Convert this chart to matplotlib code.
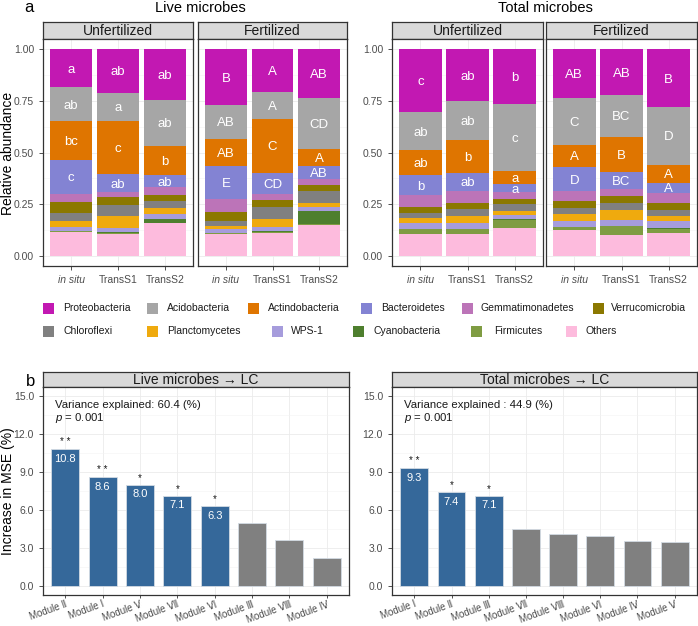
import matplotlib.pyplot as plt
from matplotlib.patches import Rectangle
from matplotlib.ticker import MultipleLocator
import numpy as np

plt.rcParams['font.family'] = ['Liberation Sans', 'DejaVu Sans', 'Noto Sans CJK SC']
plt.rcParams['mathtext.fontset'] = 'custom'
plt.rcParams['mathtext.it'] = 'Liberation Sans:italic'
plt.rcParams['mathtext.rm'] = 'Liberation Sans'

# ---- data ----
phyla = ['Proteobacteria', 'Acidobacteria', 'Actindobacteria', 'Bacteroidetes',
         'Gemmatimonadetes', 'Verrucomicrobia', 'Chloroflexi', 'Planctomycetes',
         'WPS-1', 'Cyanobacteria', 'Firmicutes', 'Others']
colors = ['#C218B2', '#A6A6A6', '#DF7500', '#8383D3', '#BC74B8', '#8B7800',
          '#808080', '#EFAA0E', '#A69CDC', '#4E7F2E', '#7F9C42', '#FDBBDD']
samples = ['in situ', 'TransS1', 'TransS2']

# rows: in situ, TransS1, TransS2 ; columns follow `phyla`
live_unfert = [[.182, .166, .187, .164, .039, .055, .038, .032, .015, .002, .003, .117],
               [.210, .138, .257, .086, .024, .038, .057, .058, .018, .006, .002, .106],
               [.244, .226, .140, .058, .038, .027, .038, .026, .023, .022, .002, .156]]
live_fert = [[.270, .163, .130, .164, .062, .044, .021, .018, .017, .002, .002, .107],
             [.207, .130, .263, .099, .031, .036, .054, .043, .017, .006, .002, .112],
             [.234, .249, .081, .062, .031, .031, .057, .019, .020, .064, .002, .150]]
total_unfert = [[.304, .185, .122, .096, .056, .029, .024, .025, .031, .001, .020, .107],
                [.249, .192, .156, .091, .055, .033, .031, .034, .031, .001, .020, .107],
                [.263, .329, .060, .041, .034, .024, .031, .020, .022, .001, .041, .134]]
total_fert = [[.236, .226, .107, .119, .045, .034, .033, .033, .027, .001, .015, .124],
              [.223, .200, .170, .083, .033, .037, .034, .046, .029, .001, .043, .101],
              [.278, .281, .088, .047, .051, .035, .030, .023, .035, .001, .023, .108]]

live_unfert_letters = [['a', 'ab', 'bc', 'c'], ['ab', 'a', 'c', 'ab'], ['ab', 'ab', 'b', 'ab']]
live_fert_letters = [['B', 'AB', 'AB', 'E'], ['A', 'A', 'C', 'CD'], ['AB', 'CD', 'A', 'AB']]
total_unfert_letters = [['c', 'ab', 'ab', 'b'], ['ab', 'ab', 'b', 'ab'], ['b', 'c', 'a', 'a']]
total_fert_letters = [['AB', 'C', 'A', 'D'], ['AB', 'BC', 'B', 'BC'], ['B', 'D', 'A', 'A']]

live_modules = ['Module Ⅱ', 'Module Ⅰ', 'Module Ⅴ', 'Module Ⅶ', 'Module Ⅵ',
                'Module Ⅲ', 'Module Ⅷ', 'Module Ⅳ']
live_mse = [10.8, 8.6, 8.0, 7.1, 6.3, 5.0, 3.6, 2.15]
live_stars = ['* *', '* *', '*', '*', '*', '', '', '']

total_modules = ['Module Ⅰ', 'Module Ⅱ', 'Module Ⅲ', 'Module Ⅶ', 'Module Ⅷ',
                 'Module Ⅵ', 'Module Ⅳ', 'Module Ⅴ']
total_mse = [9.3, 7.4, 7.1, 4.5, 4.05, 3.95, 3.5, 3.47]
total_stars = ['* *', '*', '*', '', '', '', '', '']

W, H = 698, 626
fig = plt.figure(figsize=(W / 100, H / 100), dpi=100)
BORDER = '#333333'
TICKC = '#4D4D4D'


def px_axes(x0, y0, x1, y1):
    return fig.add_axes([x0 / W, 1 - y1 / H, (x1 - x0) / W, (y1 - y0) / H])


def strip(x0, y0, x1, y1, label):
    ax = px_axes(x0, y0, x1, y1)
    ax.set_facecolor('#D9D9D9')
    ax.set_xticks([])
    ax.set_yticks([])
    for s in ax.spines.values():
        s.set_color(BORDER)
        s.set_linewidth(0.9)
    ax.text(0.5, 0.47, label, ha='center', va='center', fontsize=10,
            color='#1A1A1A', transform=ax.transAxes)


def style_panel(ax):
    for s in ax.spines.values():
        s.set_color(BORDER)
        s.set_linewidth(0.9)
    ax.tick_params(length=3, width=0.6, color=BORDER, labelsize=7.5, labelcolor=TICKC)
    ax.tick_params(which='minor', length=0)
    ax.grid(True, which='major', color='#EBEBEB', lw=0.6)
    ax.grid(True, which='minor', axis='y', color='#F3F3F3', lw=0.4)
    ax.set_axisbelow(True)


def stacked_panel(x0, x1, data, letters, label, show_y):
    strip(x0, 22, x1, 39, label)
    ax = px_axes(x0, 39, x1, 266)
    style_panel(ax)
    vals = np.array(data)
    x = np.arange(len(samples))
    bottom = np.zeros(len(samples))
    for j in reversed(range(len(phyla))):
        ax.bar(x, vals[:, j], bottom=bottom, width=0.9, color=colors[j], edgecolor='none')
        if j < 4:
            for i in range(len(samples)):
                ax.text(x[i], bottom[i] + vals[i, j] / 2, letters[i][j], ha='center',
                        va='center_baseline', fontsize=9.5, color='white')
        bottom += vals[:, j]
    ax.set_xlim(-0.6, 2.6)
    ax.set_ylim(-0.05, 1.05)
    ax.set_yticks([0, 0.25, 0.5, 0.75, 1.0])
    ax.yaxis.set_minor_locator(MultipleLocator(0.125))
    ax.set_xticks(x)
    ax.set_xticklabels(samples)
    ax.get_xticklabels()[0].set_style('italic')
    if show_y:
        ax.set_yticklabels(['0.00', '0.25', '0.50', '0.75', '1.00'])
    else:
        ax.tick_params(axis='y', labelleft=False, length=0)
    return ax


def mse_panel(x0, x1, names, vals, stars, n_sig, label, var_text):
    strip(x0, 372, x1, 387, label)
    ax = px_axes(x0, 387, x1, 595)
    style_panel(ax)
    x = np.arange(len(names))
    bar_cols = ['#35689A' if i < n_sig else '#808080' for i in range(len(names))]
    ax.bar(x, vals, width=0.75, color=bar_cols, edgecolor='#D3DBE3', linewidth=0.6)
    for i in range(len(names)):
        if stars[i]:
            ax.text(x[i], vals[i] + 0.55, stars[i], ha='center', va='center',
                    fontsize=7, color='#1A1A1A')
            ax.text(x[i], vals[i] - 0.75, '%.1f' % vals[i], ha='center', va='center',
                    fontsize=8, color='white')
    ax.set_xlim(-0.6, len(names) - 0.4)
    ax.set_ylim(-0.75, 15.75)
    ax.set_yticks([0, 3, 6, 9, 12, 15])
    ax.set_yticklabels(['0.0', '3.0', '6.0', '9.0', '12.0', '15.0'])
    ax.yaxis.set_minor_locator(MultipleLocator(1.5))
    ax.set_xticks(x)
    ax.set_xticklabels(names, rotation=20, ha='right', rotation_mode='anchor',
                       fontsize=7)
    ax.tick_params(axis='x', pad=0.5, length=2.5)
    ax.text(0.04, 0.913, var_text, transform=ax.transAxes, ha='left', va='center',
            fontsize=8.2, color='#1A1A1A')
    ax.text(0.04, 0.851, r'$p$ = 0.001', transform=ax.transAxes, ha='left',
            va='center', fontsize=8.2, color='#1A1A1A')
    return ax


# ---- panel a ----
stacked_panel(43, 193, live_unfert, live_unfert_letters, 'Unfertilized', True)
stacked_panel(198, 347, live_fert, live_fert_letters, 'Fertilized', False)
stacked_panel(392, 543, total_unfert, total_unfert_letters, 'Unfertilized', True)
stacked_panel(546, 697, total_fert, total_fert_letters, 'Fertilized', False)

fig.text(200 / W, 1 - 8 / H, 'Live microbes', ha='center', va='center', fontsize=10.5)
fig.text(545 / W, 1 - 8 / H, 'Total microbes', ha='center', va='center', fontsize=10.5)
fig.text(29 / W, 1 - 8 / H, 'a', ha='center', va='center', fontsize=12)
fig.text(8 / W, 1 - 153 / H, 'Relative abundance', rotation=90, ha='center',
         va='center', fontsize=10)

# legend, two rows placed like the original
legend_x = [(43, 63), (147, 167), (248, 268), (361, 381), (462, 481), (593, 611),
            (43, 63), (147, 167), (272, 291), (353, 373), (471, 494), (566, 585)]
legend_y = [308] * 6 + [331] * 6
for k, name in enumerate(phyla):
    sx, tx = legend_x[k]
    yc = legend_y[k]
    fig.add_artist(Rectangle((sx / W, 1 - (yc + 5.5) / H), 11 / W, 11 / H,
                             transform=fig.transFigure, facecolor=colors[k],
                             edgecolor='none'))
    fig.text(tx / W, 1 - yc / H, name, ha='left', va='center', fontsize=7.5,
             color='#1A1A1A')

# ---- panel b ----
mse_panel(43, 349, live_modules, live_mse, live_stars, 5, 'Live microbes → LC',
          'Variance explained: 60.4 (%)')
mse_panel(392, 697, total_modules, total_mse, total_stars, 3, 'Total microbes → LC',
          'Variance explained : 44.9 (%)')

fig.text(31 / W, 1 - 382 / H, 'b', ha='center', va='center', fontsize=12)
fig.text(8 / W, 1 - 491 / H, 'Increase in MSE (%)', rotation=90, ha='center',
         va='center', fontsize=10)

fig.savefig('out.png', dpi=100)
